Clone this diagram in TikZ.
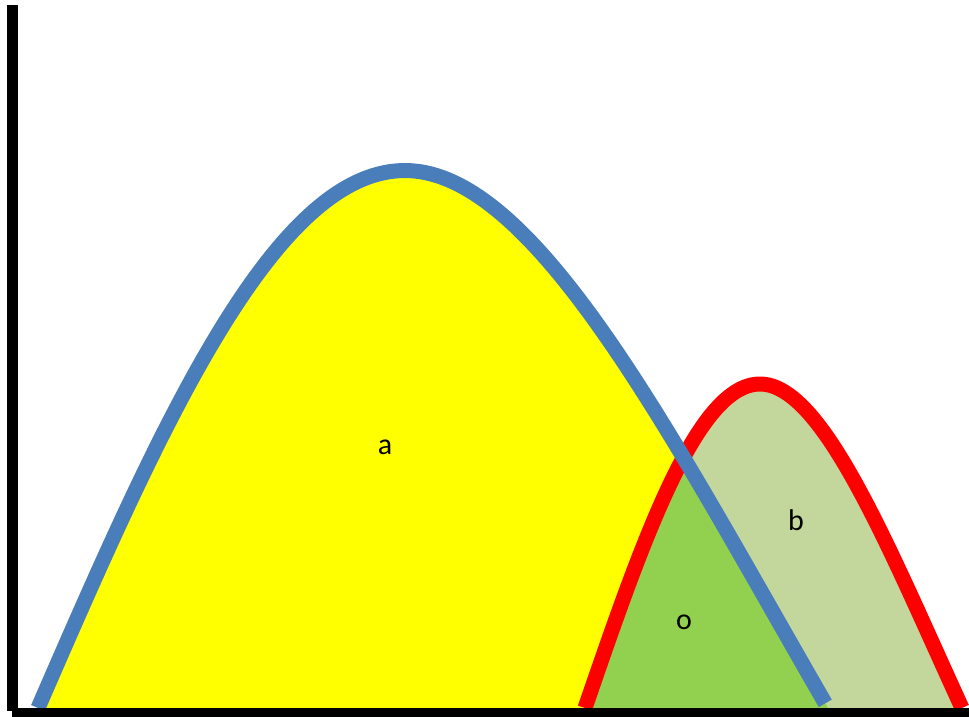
\documentclass[tikz,border=0pt]{standalone}
\usepackage{fontspec}
\setmainfont{Carlito}
\usetikzlibrary{positioning}

\definecolor{lineblue}{HTML}{4A7EBB}
\definecolor{fillyellow}{HTML}{FFFF00}
\definecolor{fillpale}{HTML}{C3D69B}
\definecolor{filloverlap}{HTML}{92D050}

% hump outline: centre x, peak y, left half-width, right half-width, end angle of right flank
\newcommand{\hump}[5]{plot[domain=90:0, samples=70, variable=\t] ({#1-#3*(\t/90)}, {708-(708-#2)*cos(\t)})
  -- plot[domain=0:#5, samples=70, variable=\t] ({#1+#4*(\t/90)*(1-0.155*(1-\t/90))}, {708-(708-#2)*cos(\t)})}

\begin{document}
\begin{tikzpicture}[
  x=1pt, y=-1pt,
  font=\fontsize{30}{34}\selectfont,
  curve/.style={line width=15pt, line join=round},
  axis/.style={line width=11pt, black},
  lbl/.style={inner sep=0pt, text=black}
]
\useasboundingbox (0,0) rectangle (969,717);

% Areas under the two humps
\fill[fillyellow] \hump{405}{170.5}{367}{423}{90} -- cycle;
\fill[fillpale] \hump{760}{384}{175}{202}{90} -- cycle;

% Overlap of both areas
\begin{scope}
  \clip \hump{405}{170.5}{367}{423}{90} -- cycle;
  \fill[filloverlap] \hump{760}{384}{175}{202}{90} -- cycle;
\end{scope}

% Outlines
\draw[curve, red] \hump{760}{384}{175}{202}{90};
\draw[curve, lineblue] \hump{405}{170.5}{367}{423}{89.5};

% Axes
\coordinate (ytop) at (12,5);
\coordinate (origin) at (12,711);
\coordinate (xleft) at (12,713);
\coordinate (xend) at (975,713);
\draw[axis] (ytop) -- (origin);
\draw[axis, line width=10pt] (xleft) -- (xend);

% Labels
\node[lbl] (a) at (385,447) {a};
\node[lbl] (b) at (796,520) {b};
\node[lbl] (o) at (684,622) {o};

\end{tikzpicture}
\end{document}
